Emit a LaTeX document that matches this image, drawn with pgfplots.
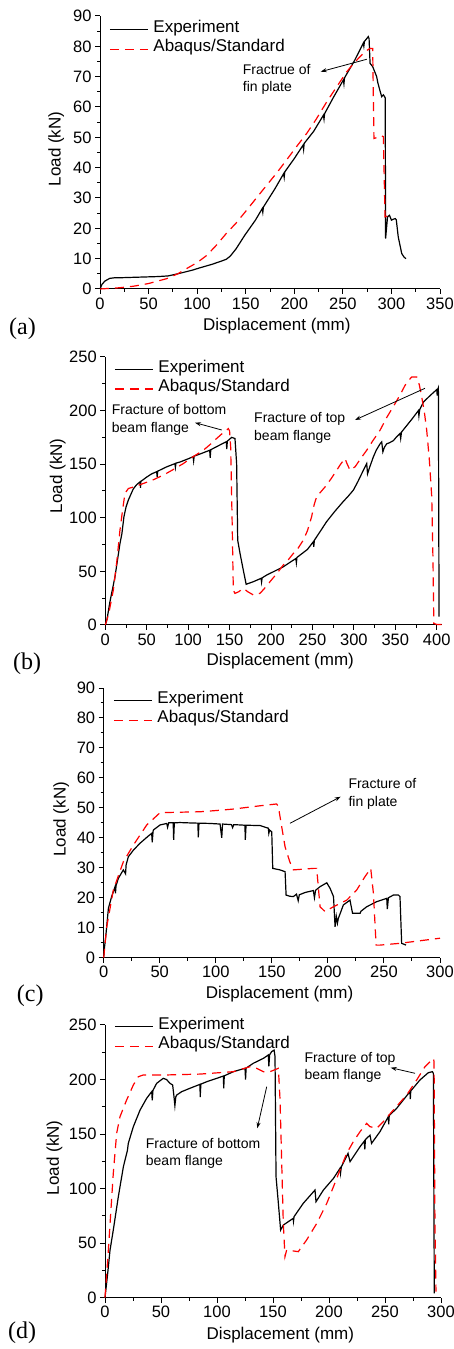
\documentclass[border=0pt]{standalone}
\usepackage{pgfplots}
\pgfplotsset{compat=1.18}
\usepackage{fontspec}
\setmainfont{Liberation Sans}
\newfontfamily\seriffont{Liberation Serif}
\usetikzlibrary{arrows.meta}

\pgfplotstableread{
x y
0 0
2 1.5
5 2.6
10 3.5
15 3.7
20 3.7
40 3.9
60 4.1
70 4.3
80 5.0
95 6.2
103 7.0
115 8.1
125 9.2
130 9.8
134 10.8
140 13.2
149 17.7
160 22.7
167 26.5
167.6 25.3
168.2 27.0
180 33
189 38
189.6 36.8
190.2 38.6
200 43
209 47.4
209.6 46.0
210.2 48.0
220 52
230 57.3
230.6 56.0
231.2 57.8
240 63
250.5 68.9
251.1 67.6
251.7 69.6
262 75.3
271 81
271.6 80.0
272.2 81.6
276.2 83.2
277 82.5
278 74.4
280.7 73.3
284.8 70
286 68
288 65.6
290 63.4
291.7 64
293 63.4
293.6 63
294 16.6
296 23.8
298 24.3
300 22.7
302 23
304 23.2
305 22.8
307 17.2
310.6 11.7
313 10.5
315 10
}\expa

\pgfplotstableread{
x y
0 0
20 0.4
34.3 0.9
50 1.8
68.6 3.4
80 5.0
89 6.7
100 8.7
110 11.1
120 14.5
130 18.3
140 21.7
151 26
161 30
171.6 34.2
182 38.3
192 42.5
202 46.8
212.8 51.3
223 56.2
233.4 61.7
244 66.8
254 71.6
261 74.3
267.7 76.6
273 78.3
278 79.3
280.7 79.3
282 49.6
290 50.5
291.7 50.2
293.4 23.8
298.6 24.3
}\abqa

\pgfplotstableread{
x y
0 0
2 5
5.6 21.7
11.7 45
17.7 76
20 85
22.5 101
25 110
27.8 116.5
33.8 127
38 131
41.9 133.5
42.5 128
43 134
50 138
56 141
62 143
62.6 138
63.3 143.5
74 147.5
84 150.5
84.6 147
85.3 151
90 152
100 155
106 157
106.6 153
107.3 157.5
116 160
126 163
126.6 156
127.3 163.5
136 167
146 171
146.6 164
147.3 171.5
152.5 175
156.5 174
158.5 150.6
159.8 79
162.6 66.8
166.6 51
170 38
178.7 40.4
188 43.5
188.6 40
189.3 44
194.8 46.6
205 50.5
214.9 54.3
225 59.5
230 62
230.6 58
231.3 63
235 65.2
244 70.5
251 77.6
251.6 73
252.3 79
260 88
267 96.3
277 106
287 115
293 120
299.4 125.8
305 134
311.5 144.4
315.5 150.6
316.5 141
319 147
323.5 156.8
327 163
331.6 169
333.6 170.8
335 161.5
337 166
339.6 169
343 170
347.7 172
351 175
355.7 178.6
356.5 174
357.5 180
363.8 186
370 192
377.9 200
378.5 195
379.5 201
384 208
392 214
400 219.6
400.6 214
401.3 220
402 221.4
402.8 7.8
}\expb

\pgfplotstableread{
x y
0 0
4 10
9.7 32.6
14 60
17.7 88.5
21 108
23.7 122.7
27.8 127.3
35 129
45.9 132
58 135.5
70 139.8
82 145
94.2 150.6
106 157
118.3 163
126 168
134.4 174
141 178.5
148.5 183.2
150 181
151.3 166
153 100
154.5 32.6
156.5 29.5
161 31
166.6 34.2
172 31
178.7 28
186.7 29.5
192 34
198.8 40.4
207 48
214.9 56
221 61
227 66.8
233 72
239 79.2
244 88
249 101
252 112
255 119.6
261 125
267 130.4
273 137
279.3 144.4
284 150
289.3 155.3
292 150
295.4 144.4
298 146
301.4 147.5
308 155
315.5 163
323 172
331.6 181.7
340 194
349.7 206.5
356 215
361.8 223.6
366 228
369.8 231.4
375.8 231.4
379 224
381.9 212.7
385 199
387.9 181.7
391 155
394 119.6
395.5 60
396.5 1.5
400 0.5
406 0.5
}\abqb

\pgfplotstableread{
x y
0 0
0.6 3
2.1 8.1
4.2 16.5
7.1 20.4
10.1 23.7
10.5 21.5
11 24
13.1 26.5
17.5 29.3
19.5 28
20 31
22 33.7
26.5 35.9
32.4 38.2
39.8 40.6
42.8 41.5
43.3 38.5
44 42
44.3 42.6
50.3 44.3
56.2 44.8
57 43.5
58 45
62 45
62.4 39.3
63 45
68 45.1
75 45
84 44.9
84.4 40.2
85 44.9
95 44.8
103.8 44.6
105.3 40
106 44.6
114 44.4
115 43.4
116 44.4
121.6 44.3
126 44.2
126.3 39.3
127 44.2
139.5 44.1
146.9 43.2
147.3 41.5
148 42.6
149.9 42
150.8 29.8
157.3 29.3
161.8 28.7
162.7 20.9
166 20.5
169.2 20.4
172 21.2
173.5 19
174.5 21
180 21.8
187 22.4
188 20
189 22.5
193 23.7
199 25
202 23.1
205 20.4
206.4 10.3
207.5 13.8
208.5 11.5
209.3 13.1
213.8 17.6
219.7 19.2
222 14.8
228.7 14.8
229.5 15.5
234.6 17
243.5 18.7
252.5 19.8
253 16.2
254 20
258.4 20.9
262.9 20.9
264.3 20.4
265.8 4.8
269.7 4.2
}\expc

\pgfplotstableread{
x y
0 0
2.7 10.3
8.6 22.6
17.5 32
26.5 37.6
38.4 44.3
50.3 48.4
62 48.5
86 48.7
100 49.1
115.7 49.6
139.5 50.7
154.3 51.3
155.8 50.4
161.8 37
166 32
169.2 29.3
187 29.8
190 29.8
193 17
197.4 15.4
204.9 17
216.8 19.2
225.7 22.6
233 27
238.2 29.8
240.6 21.5
243 4.2
246.5 4.2
264.3 4.8
300 6.5
}\abqc

\pgfplotstableread{
x y
0 0
2.1 19.3
4.5 43.7
7.4 62
11.9 92.6
16.4 120
20 135
20.8 141.5
25.3 156.8
31.3 172
37.2 182.8
41.7 188.9
42.2 181
42.8 190
46.1 196.5
52 201.1
55 200
58 196.5
60.4 195
61.6 184.3
62.4 176
63.2 184
64 185.8
68.5 188.9
75.9 192
84.8 195.6
85 184
85.6 195.8
90.8 198
99.7 201.1
105.7 203.2
106 192
106.5 203.4
114.6 207.2
125 210.3
125.5 200
126 210.5
132.4 214.9
141.4 219.4
145.8 222.5
146.3 212
147 222.7
148.8 225.6
151 227
151.8 221
152.7 111
154.8 86.5
156.8 62
159.2 66.6
168 72.7
168.3 70
168.8 74.3
177 86.5
187.5 98.7
188.4 88
195 98.7
204 109.4
209.8 118.6
210.3 114
211 120
217 132.3
218.8 124.7
227.7 138.4
231.5 143.5
232 136
232.5 145
236.6 149
238 141.5
245.5 152.2
253 166
253.3 159
253.8 167
260.4 173.6
272.3 188.9
272.6 182
273 189.5
281.2 199.6
288.7 206.3
292.3 207.2
293.2 205.7
294 4
}\expd

\pgfplotstableread{
x y
0 0
3 43.7
7.4 114
10.4 150.7
13.4 166
19.3 181.2
25.3 195
29.8 202.6
34.2 204.2
55 204.2
84.8 205
114.6 207.2
129.5 211.8
135.4 210.3
141.4 207.2
147.3 207.2
154.8 210.3
156.3 181.2
159.2 68
160.7 37.6
162.2 43.7
172.6 42.2
180 52.9
189 68
198 86.5
204 101.8
209.8 117
215.8 132.3
221.7 143
227.7 152.2
233.6 159.8
236.6 156.8
242.6 155.3
248.5 161.4
257.4 172
269.3 185.8
278.3 199.6
285.7 211.8
293.2 219.4
293.8 216.4
294.6 68
295.5 5.5
}\abqd

\pgfplotsset{
  panel/.style={
    scale only axis,
    axis lines=left,
    axis line style={-, line width=1pt},
    tick align=outside,
    major tick length=5pt,
    minor tick length=3pt,
    every tick/.style={line width=1pt, black},
    minor tick num=1,
    /pgf/number format/assume math mode=true,
    tick label style={font=\fontsize{16.5}{18}\selectfont},
    label style={font=\fontsize{17}{19}\selectfont},
    xlabel={Displacement (mm)},
    ylabel={Load (kN)},
    legend cell align=left,
    legend image code/.code={\draw[#1] (0pt,0pt) -- (38pt,0pt);},
    legend style={draw=none, fill=none, inner sep=0pt, anchor=north west,
      font=\fontsize{17}{19}\selectfont, row sep=0pt, column sep=5pt,
      nodes={inner sep=0pt, text height=12.5pt, text depth=6.9pt}},
    clip=false,
  },
  expline/.style={black, line width=1.2pt},
  abqline/.style={red, line width=1.2pt, dash pattern=on 9pt off 6pt},
}

\begin{document}
\begin{tikzpicture}[x=1pt,y=1pt]
\useasboundingbox (0pt,0pt) rectangle (454pt,1349pt);

% (a)
\begin{axis}[panel, at={(100pt,1060pt)}, anchor=south west, width=340pt, height=273pt,
  xmin=0, xmax=350, ymin=0, ymax=90, xtick={0,50,...,350}, ytick={0,10,...,90},
  xlabel style={at={(axis description cs:0.52,0)}, anchor=base, yshift=-42pt},
  ylabel style={at={(axis description cs:-0.1156,0.513)}, anchor=base},
  legend style={at={(axis description cs:0.0265,0.986)}}]
\addplot[expline] table[x=x,y=y] {\expa};
\addplot[abqline] table[x=x,y=y] {\abqa};
\legend{Experiment, Abaqus/Standard}
\end{axis}

% (b)
\begin{axis}[panel, at={(105.3pt,724pt)}, anchor=south west, width=336.4pt, height=268pt,
  xmin=0, xmax=406, ymin=0, ymax=250, xtick={0,50,...,400}, ytick={0,50,...,250},
  xlabel style={at={(axis description cs:0.52,0)}, anchor=base, yshift=-41pt},
  ylabel style={at={(axis description cs:-0.128,0.557)}, anchor=base},
  legend style={at={(axis description cs:0.026,0.9896)}}]
\addplot[expline] table[x=x,y=y] {\expb};
\addplot[abqline] table[x=x,y=y] {\abqb};
\legend{Experiment, Abaqus/Standard}
\end{axis}

% (c)
\begin{axis}[panel, at={(103.7pt,391.3pt)}, anchor=south west, width=336.3pt, height=269.7pt,
  xmin=0, xmax=300, ymin=0, ymax=90, xtick={0,50,...,300}, ytick={0,10,...,90},
  xlabel style={at={(axis description cs:0.523,0)}, anchor=base, yshift=-41pt},
  ylabel style={at={(axis description cs:-0.113,0.5135)}, anchor=base},
  legend style={at={(axis description cs:0.0277,0.9896)}}]
\addplot[expline] table[x=x,y=y] {\expc};
\addplot[abqline] table[x=x,y=y] {\abqc};
\legend{Experiment, Abaqus/Standard}
\end{axis}

% (d)
\begin{axis}[panel, at={(105pt,51.3pt)}, anchor=south west, width=336pt, height=272.7pt,
  xmin=0, xmax=300, ymin=0, ymax=250, xtick={0,50,...,300}, ytick={0,50,...,250},
  xlabel style={at={(axis description cs:0.522,0)}, anchor=base, yshift=-42pt},
  ylabel style={at={(axis description cs:-0.137,0.513)}, anchor=base},
  legend style={at={(axis description cs:0.027,1.030)}}]
\addplot[expline] table[x=x,y=y] {\expd};
\addplot[abqline] table[x=x,y=y] {\abqd};
\legend{Experiment, Abaqus/Standard}
\end{axis}

% panel letters
\begin{scope}[every node/.style={inner sep=0pt, anchor=base west, font=\seriffont\fontsize{24}{26}\selectfont}]
\node at (9pt,1014pt) {(a)};
\node at (13pt,679.7pt) {(b)};
\node at (16.7pt,347.3pt) {(c)};
\node at (8pt,10.6pt) {(d)};
\end{scope}

% annotations
\begin{scope}[every node/.style={inner sep=0pt, anchor=base west, font=\fontsize{14}{16}\selectfont}]
\node at (242.7pt,1274pt) {Fractrue of};
\node at (242.7pt,1257pt) {fin plate};
\node at (111.7pt,934pt) {Fracture of bottom};
\node at (111.7pt,916pt) {beam flange};
\node at (254pt,926.3pt) {Fracture of top};
\node at (254pt,908.3pt) {beam flange};
\node at (348.3pt,560.7pt) {Fracture of};
\node at (348.3pt,542.7pt) {fin plate};
\node at (304.3pt,286.7pt) {Fracture of top};
\node at (304.3pt,269.7pt) {beam flange};
\node at (145.7pt,200.7pt) {Fracture of bottom};
\node at (145.7pt,183.3pt) {beam flange};
\end{scope}
\begin{scope}[line width=0.8pt, -{Stealth[length=6pt,width=4pt]}]
\draw (366.7pt,1289.7pt) -- (320.7pt,1277.3pt);
\draw (221.7pt,919pt) -- (195pt,926.3pt);
\draw (425pt,960.7pt) -- (355pt,929pt);
\draw (290pt,525.7pt) -- (340.7pt,552.3pt);
\draw (415pt,275.7pt) -- (390.7pt,281.3pt);
\draw (266.7pt,262.3pt) -- (257.3pt,220.7pt);
\end{scope}
\end{tikzpicture}
\end{document}
